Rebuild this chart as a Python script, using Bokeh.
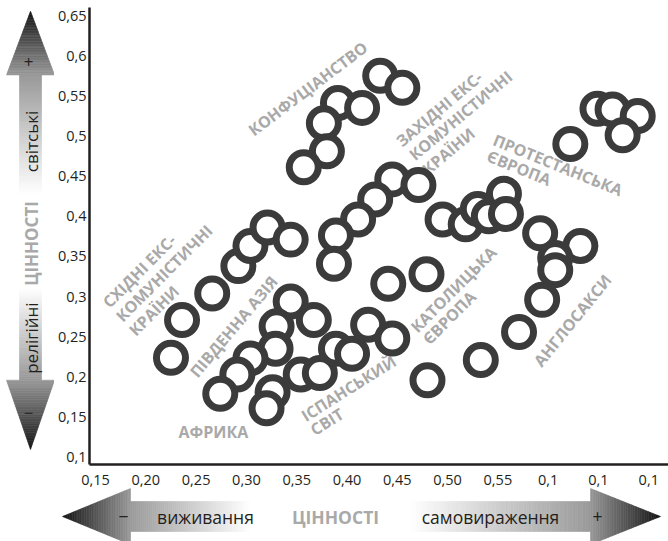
from bokeh.plotting import figure
from bokeh.layouts import column, row
from bokeh.models import Range1d, FixedTicker
from bokeh.core.properties import value
from bokeh.embed import file_html
from bokeh.resources import INLINE

FONT = "Open Sans"

# ---------------- data (x: survival/self-expression, y: religious/secular) ----------------
x_vals = [0.433, 0.455, 0.391, 0.415, 0.377, 0.380, 0.357,            # Confucian
          0.649, 0.664, 0.689, 0.674, 0.622,                          # Protestant Europe
          0.445, 0.471, 0.428, 0.411, 0.389, 0.387,                   # ex-communist west
          0.495, 0.518, 0.530, 0.541, 0.556, 0.558, 0.441, 0.479,     # Catholic Europe
          0.592, 0.632, 0.607, 0.607, 0.594, 0.571, 0.533, 0.480,     # English speaking
          0.225, 0.236, 0.266, 0.292, 0.304, 0.321, 0.344,            # ex-communist east
          0.344, 0.367, 0.330,                                        # South Asia
          0.329, 0.304, 0.291, 0.274, 0.326, 0.320,                   # Africa
          0.354, 0.373, 0.389, 0.405, 0.421, 0.445]                   # Latin America
y_vals = [0.575, 0.560, 0.541, 0.535, 0.516, 0.481, 0.461,
          0.534, 0.533, 0.525, 0.501, 0.490,
          0.446, 0.439, 0.421, 0.396, 0.376, 0.341,
          0.396, 0.390, 0.409, 0.400, 0.428, 0.403, 0.316, 0.328,
          0.379, 0.363, 0.348, 0.333, 0.296, 0.256, 0.221, 0.196,
          0.224, 0.271, 0.304, 0.338, 0.363, 0.386, 0.371,
          0.294, 0.271, 0.263,
          0.235, 0.223, 0.203, 0.179, 0.181, 0.161,
          0.203, 0.205, 0.235, 0.229, 0.265, 0.248]

x_ticks = [0.15, 0.20, 0.25, 0.30, 0.35, 0.40, 0.45, 0.50, 0.55, 0.60, 0.65, 0.70]
x_tick_labels = ["0,15", "0,20", "0,25", "0,30", "0,35", "0,40", "0,45", "0,50", "0,55", "0,1", "0,1", "0,1"]
y_ticks = [0.10, 0.15, 0.20, 0.25, 0.30, 0.35, 0.40, 0.45, 0.50, 0.55, 0.60, 0.65]
y_tick_labels = ["0,1", "0,15", "0,2", "0,25", "0,3", "0,35", "0,4", "0,45", "0,5", "0,55", "0,6", "0,65"]

# region captions: text line, x, y (left-middle anchor, data units), angle (deg)
cap_text = ["КОНФУЦІАНСТВО",
            "ЗАХІДНІ ЕКС-", "КОМУНІСТИЧНІ", "КРАЇНИ",
            "ПРОТЕСТАНСЬКА", "ЄВРОПА",
            "СХІДНІ ЕКС-", "КОМУНІСТИЧНІ", "КРАЇНИ",
            "ПІВДЕННА АЗІЯ",
            "АФРИКА",
            "ІСПАНСЬКИЙ", "СВІТ",
            "КАТОЛИЦЬКА", "ЄВРОПА",
            "АНГЛОСАКСИ"]
cap_x = [0.304, 0.451, 0.464, 0.477, 0.546, 0.540, 0.160, 0.173, 0.186,
         0.247, 0.2325, 0.356, 0.365, 0.466, 0.478, 0.589]
cap_y = [0.505, 0.491, 0.474, 0.456, 0.496, 0.476, 0.290, 0.2725, 0.255,
         0.2025, 0.131, 0.150, 0.1325, 0.259, 0.244, 0.216]
cap_angle = [37, 40, 40, 40, -22, -22, 45, 45, 45, 50, 0, 32, 32, 45, 45, 51]

TOP_H = 488

# ---------------- main chart ----------------
p = figure(width=614, height=TOP_H,
           x_range=Range1d(0.144, 0.7196), y_range=Range1d(0.091, 0.66),
           output_backend="svg", toolbar_location=None,
           min_border_left=34, min_border_right=0, min_border_top=7, min_border_bottom=24)
p.xgrid.visible = False
p.ygrid.visible = False
p.outline_line_color = None

p.xaxis.ticker = FixedTicker(ticks=x_ticks)
p.xaxis.major_label_overrides = {t: l for t, l in zip(x_ticks, x_tick_labels)}
p.yaxis.ticker = FixedTicker(ticks=y_ticks)
p.yaxis.major_label_overrides = {t: l for t, l in zip(y_ticks, y_tick_labels)}
for ax in (p.xaxis, p.yaxis):
    ax.axis_line_width = 2.5
    ax.axis_line_color = "#231f20"
    ax.major_tick_line_color = None
    ax.minor_tick_line_color = None
    ax.major_tick_out = 0
    ax.major_tick_in = 0
    ax.minor_tick_out = 0
    ax.major_label_text_font = FONT
    ax.major_label_text_font_size = "14.5px"
    ax.major_label_text_color = "#231f20"
p.xaxis.major_label_standoff = 10
p.yaxis.major_label_standoff = 3

p.text(x=cap_x, y=cap_y, text=cap_text, angle=cap_angle, angle_units="deg",
       text_font=value(FONT), text_font_size="16px", text_font_style="bold",
       text_color="#a9a9a9", text_align="left", text_baseline="middle")

p.scatter(x=x_vals, y=y_vals, marker="circle", size=29, fill_color="white",
          line_color="#3b3b3b", line_width=7)


# ---------------- gradient arrows ----------------
def mix(c0, c1, t):
    a = [int(c0[i:i + 2], 16) for i in (1, 3, 5)]
    b = [int(c1[i:i + 2], 16) for i in (1, 3, 5)]
    return "#%02x%02x%02x" % tuple(round(a[k] + (b[k] - a[k]) * t) for k in range(3))


def strips(s0, s1, h0, h1, c0, c1, n, centre, vertical):
    xs, ys, cols = [], [], []
    for i in range(n):
        a = s0 + (s1 - s0) * i / n
        b = s0 + (s1 - s0) * (i + 1) / n
        ha = h0 + (h1 - h0) * i / n
        hb = h0 + (h1 - h0) * (i + 1) / n
        col = mix(c0, c1, (i + 0.5) / n)
        along = [a, b, b, a]
        across = [centre - ha, centre - hb, centre + hb, centre + ha]
        if vertical:
            xs.append(across)
            ys.append([-v for v in along])
        else:
            xs.append(along)
            ys.append([-v for v in across])
        cols.append(col)
    return xs, ys, cols


DARK, MID, WHITE = "#141414", "#999999", "#ffffff"

# vertical arrow (left)
lf = figure(width=54, height=TOP_H, x_range=Range1d(0, 54), y_range=Range1d(-TOP_H, 0),
            output_backend="svg", toolbar_location=None, x_axis_type=None, y_axis_type=None,
            min_border=0)
lf.grid.visible = False
lf.outline_line_color = None
vx = 30
parts = [(4, 72, 0, 24, DARK, MID, 40), (72, 200, 11, 11, MID, WHITE, 60),
         (200, 300, 11, 11, WHITE, WHITE, 2), (300, 398, 11, 11, WHITE, MID, 50),
         (398, 472, 24, 0, MID, DARK, 40)]
for s0, s1, h0, h1, c0, c1, n in parts:
    xs, ys, cols = strips(s0, s1, h0, h1, c0, c1, n, vx, True)
    lf.patches(xs, ys, fill_color=cols, line_color=cols, line_width=0.6)
lf.text(x=[vx + 1, vx + 1, vx + 1], y=[-143, -252, -353], text=["світські", "ЦІННОСТІ", "релігійні"],
        angle=[90, 90, 90], angle_units="deg", text_font=value(FONT), text_font_size="17px",
        text_font_style=["normal", "bold", "normal"],
        text_color=["#231f20", "#a9a9a9", "#231f20"], text_align="center", text_baseline="middle")
lf.text(x=[vx - 2, vx - 2], y=[-58, -433], text=["+", "−"], text_font=value(FONT),
        text_font_size="17px", text_color="#231f20", text_align="center", text_baseline="middle")

# horizontal arrow (bottom) -- may overlap the empty lower strip of the chart's axis panel
BOT_TOP = 486
bf = figure(width=668, height=541 - BOT_TOP, x_range=Range1d(0, 668), y_range=Range1d(-541, -BOT_TOP),
            output_backend="svg", toolbar_location=None, x_axis_type=None, y_axis_type=None,
            min_border=0, margin=(BOT_TOP - TOP_H, 0, 0, 0))
bf.grid.visible = False
bf.outline_line_color = None
bf.background_fill_alpha = 0
bf.border_fill_alpha = 0
hy = 516
parts = [(62, 130, 0, 28, DARK, MID, 40), (130, 250, 15, 15, MID, WHITE, 60),
         (250, 410, 15, 15, WHITE, WHITE, 2), (410, 590, 15, 15, WHITE, MID, 70),
         (590, 660, 28, 0, MID, DARK, 40)]
for s0, s1, h0, h1, c0, c1, n in parts:
    xs, ys, cols = strips(s0, s1, h0, h1, c0, c1, n, hy, False)
    bf.patches(xs, ys, fill_color=cols, line_color=cols, line_width=0.6)
bf.text(x=[123, 205, 335, 490, 597], y=[-hy] * 5,
        text=["−", "виживання", "ЦІННОСТІ", "самовираження", "+"],
        text_font=value(FONT), text_font_size="17.5px",
        text_font_style=["normal", "normal", "bold", "normal", "normal"],
        text_color=["#231f20", "#231f20", "#a9a9a9", "#231f20", "#231f20"],
        text_align="center", text_baseline="middle")

layout = column(row(lf, p), bf)
open("out.html", "w").write(file_html(layout, INLINE))
